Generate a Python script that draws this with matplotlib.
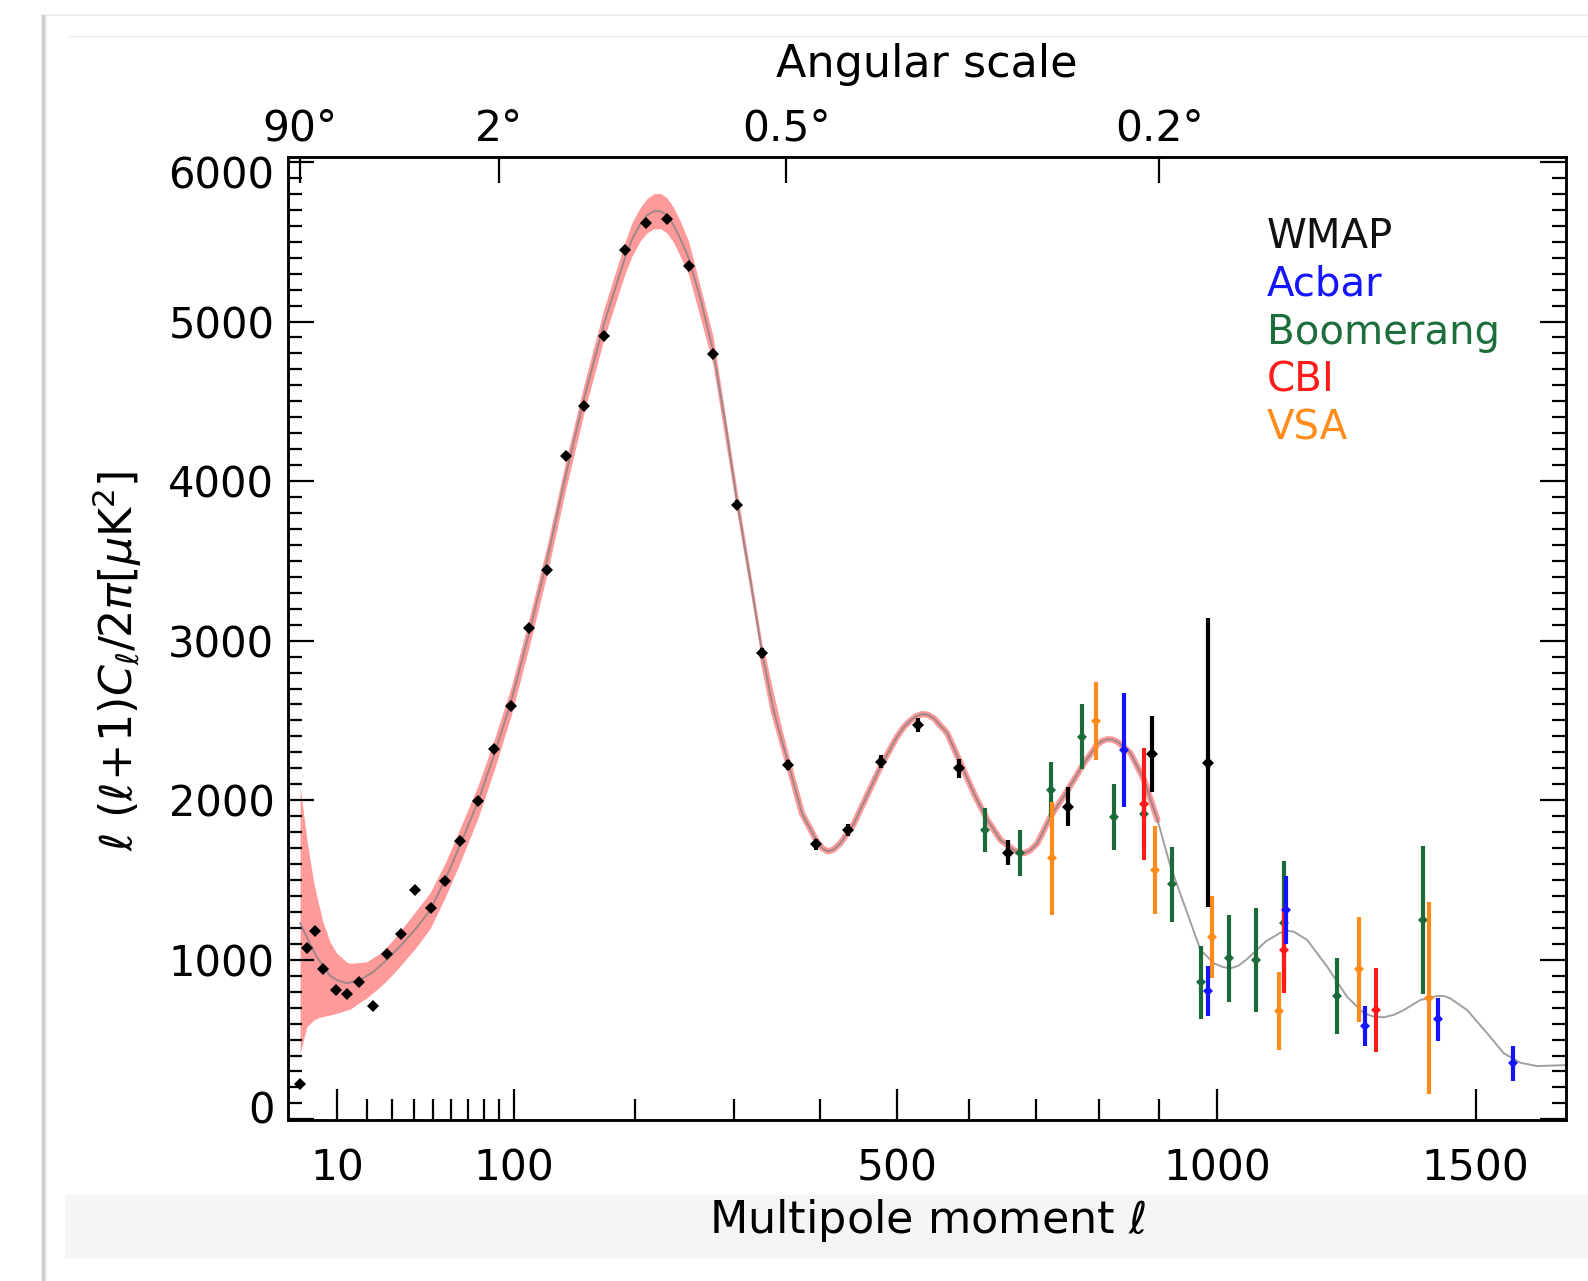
import numpy as np
import matplotlib
matplotlib.use('Agg')
import matplotlib.pyplot as plt
from matplotlib.ticker import FixedLocator, MultipleLocator, NullLocator
from matplotlib.lines import Line2D
from matplotlib.patches import Rectangle
import matplotlib.transforms as mtransforms

plt.rcParams['font.family'] = ['DejaVu Sans']
plt.rcParams['mathtext.fontset'] = 'dejavusans'
plt.rcParams['mathtext.default'] = 'it'

# ---------------- data ----------------
wmap_ell = [2, 3.2, 4.6, 6.5, 9.7, 13.1, 17.1, 22.3, 27.7, 33.9, 40.7, 48.7, 56.5, 65.2, 76.1,
            86.9, 98.3, 110.8, 124.6, 139.9, 154.7, 171.9, 190.1, 210.4, 230.5, 252.1, 277.6,
            303.6, 331.7, 361.9, 395.9, 435.6, 478.6, 528.0, 585.0, 657.0, 750.0, 888.0, 983.5]
wmap_dl = [221, 1072, 1181, 942, 811, 784, 863, 712, 1034, 1160, 1438, 1323, 1494, 1745, 1998,
           2320, 2592, 3079, 3445, 4159, 4470, 4909, 5450, 5617, 5645, 5349, 4798,
           3851, 2922, 2222, 1724, 1814, 2242, 2472, 2201, 1672, 1960, 2290, 2236]
wmap_err = [0, 0, 0, 0, 0, 0, 0, 0, 0, 0, 0, 0, 0, 0, 0,
            15, 15, 15, 18, 18, 20, 20, 22, 22, 25, 25, 25,
            28, 30, 32, 35, 38, 42, 45, 60, 78, 122, 238, 907]

boom_ell = [623, 675, 723, 772.5, 823.8, 874, 921.3, 971, 1021, 1071, 1121, 1222, 1392]
boom_dl = [1814, 1668, 2065, 2399, 1897, 1914, 1473, 859, 1009, 999, 1233, 773, 1250]
boom_err = [139, 144, 173, 202, 206, 225, 235, 229, 272, 327, 385, 240, 465]

acbar_ell = [840.5, 983.5, 1125, 1276, 1423, 1578]
acbar_dl = [2315, 804, 1312, 585, 627, 351]
acbar_err = [360, 157, 211, 125, 133, 109]

cbi_ell = [874, 1122, 1297]
cbi_dl = [1977, 1062, 685]
cbi_err = [350, 270, 261]

vsa_ell = [724, 795, 892, 991.5, 1112, 1265, 1404]
vsa_dl = [1636, 2499, 1563, 1141, 678, 940, 759]
vsa_err = [355, 245, 277, 256, 245, 330, 603]

model_ell = [2, 3.1, 4.3, 5, 6.5, 8.2, 10, 12.9, 17.3, 22.3, 27.7, 33.9, 40.7, 48.3, 56.5,
             65.2, 76.1, 86.9, 98.3, 110.8, 124.6, 139.9, 154.7, 171.9, 190.1, 197, 204.7, 211,
             217.3, 224, 230.5, 237, 244, 252.1, 265, 277.6, 291, 303.6, 318.4, 331.7, 345,
             362.6, 378.4, 396.6, 403, 410, 417, 425.7, 442.6, 459.9, 478.6, 499.8, 509,
             517.8, 526, 534, 542, 550, 568.8, 587.8, 607, 626.6, 646.3, 666.3, 674, 681.4, 691,
             702, 722.8, 748.9, 775, 797, 805, 813, 821, 829.4, 851.4, 874, 896.6, 919, 947.8,
             971, 994.5, 1010, 1024, 1038, 1054, 1088, 1115, 1128, 1140, 1165, 1203, 1241, 1274,
             1294, 1313, 1333, 1353, 1386, 1420, 1434, 1447, 1482, 1524, 1559, 1594, 1630, 1693]
model_dl = [1230, 1140, 1061, 1020, 957, 900, 873, 853, 873, 925, 1000, 1090, 1190, 1310, 1500,
            1720, 1990, 2290, 2620, 3034, 3500, 4050, 4520, 4990, 5390, 5515, 5610, 5665,
            5690, 5693, 5665, 5605, 5515, 5400, 5130, 4820, 4360, 3870, 3381, 2922, 2560,
            2221, 1918, 1741, 1700, 1680, 1690, 1730, 1850, 2030, 2220, 2400, 2460,
            2500, 2528, 2540, 2535, 2514, 2420, 2232, 2044, 1877, 1751, 1688, 1672, 1668, 1685,
            1730, 1900, 2060, 2230, 2350, 2372, 2382, 2381, 2367, 2295, 2127, 1877, 1584, 1292,
            1061, 978, 955, 947, 962, 1005, 1115, 1170, 1182, 1176, 1124, 957, 769, 665,
            643, 640, 655, 685, 748, 773, 773, 759, 685, 539, 414, 355, 334, 340]

band_ell = [2, 3.1, 4.3, 5, 6.5, 8.2, 10, 13, 14, 18.5, 19.7, 24.9, 27.7, 32, 40.7, 48.3,
            56.5, 65.2, 76.1, 86.9, 98.3, 110.8, 124.6, 139.9, 154.7, 171.9, 190.1, 197, 204.7,
            211, 217.3, 224, 230.5, 237, 244, 252.1, 277.6, 303.6, 331.7, 362.6, 380]
band_lo = [414, 581, 620, 633, 645, 654, 665, 685, 690, 748, 760, 831, 870, 936, 1070, 1195,
           1390, 1610, 1885, 2195, 2530, 2945, 3410, 3960, 4430, 4895, 5290, 5410, 5505,
           5555, 5580, 5582, 5555, 5495, 5405, 5295, 4730, 3800, 2865, 2180, 1880]
band_hi = [2085, 1751, 1500, 1400, 1229, 1110, 1041, 985, 978, 985, 988, 1040, 1082, 1150, 1300,
           1420, 1605, 1825, 2090, 2385, 2710, 3125, 3590, 4140, 4610, 5085, 5490, 5620, 5715,
           5770, 5800, 5803, 5775, 5715, 5625, 5505, 4910, 3940, 2980, 2262, 1950]

x_major = [10, 100, 500, 1000, 1500]
x_minor = [20, 30, 40, 50, 60, 70, 80, 90, 200, 300, 400, 600, 700, 800, 900]
y_major = [0, 1000, 2000, 3000, 4000, 5000, 6000]
top_ell = [2, 90, 360, 900]
top_labels = ['90°', '2°', '0.5°', '0.2°']

legend_names = ['WMAP', 'Acbar', 'Boomerang', 'CBI', 'VSA']
c_wmap, c_acbar, c_boom, c_cbi, c_vsa = '#000000', '#1414ff', '#1b6b3a', '#ff1a1a', '#ff8c1a'
legend_colors = ['#111111', c_acbar, '#1e6e3c', c_cbi, c_vsa]

# ---------------- figure ----------------
W, H = 1588, 1281
fig = plt.figure(figsize=(W / 100, H / 100), dpi=100)


def fx(px):
    return px / W


def fy(py):
    return 1 - py / H


# screenshot-like frame (behind everything)
fig.patches.append(Rectangle((fx(65), fy(1257)), 1 - fx(65), (1257 - 1195) / H,
                             transform=fig.transFigure, color='#f5f5f5', zorder=-5))
for dx, c in [(-2, '#ececec'), (-1, '#d8d8d8'), (0, '#c4c4c4'), (1, '#d0d0d0'), (2, '#e2e2e2'), (3, '#f0f0f0')]:
    fig.add_artist(Line2D([fx(43 + dx)] * 2, [fy(15), 0], color=c, lw=0.9,
                          transform=fig.transFigure, zorder=-5))
fig.add_artist(Line2D([fx(45), 1], [fy(15)] * 2, color='#ebebeb', lw=1.2,
                      transform=fig.transFigure, zorder=-5))
fig.add_artist(Line2D([fx(67), 1], [fy(36)] * 2, color='#f0f0f0', lw=1.0,
                      transform=fig.transFigure, zorder=-5))

L, R, T, B = 288.3, 1566.0, 156.7, 1120.0
ax = fig.add_axes([fx(L), fy(B), (R - L) / W, (B - T) / H])
ax.patch.set_alpha(0)


def fwd(x):
    x = np.asarray(x, dtype=float)
    return np.sign(x) * np.abs(x) ** 0.6


def inv(u):
    u = np.asarray(u, dtype=float)
    return np.sign(u) * np.abs(u) ** (1 / 0.6)


ax.set_xscale('function', functions=(fwd, inv))
xlim = (0.58, 1693)
ax.set_xlim(*xlim)
ax.set_ylim(-4, 6033)

# model band and curve
ax.fill_between(band_ell, band_lo, band_hi, color='#ff9a9a', lw=0, zorder=1)
me = np.array(model_ell)
md = np.array(model_dl)
sel = (me >= 330) & (me <= 900)
ax.plot(me[sel], md[sel], color='#ff9a9a', lw=4.5, solid_capstyle='round',
        solid_joinstyle='round', zorder=1.5)
ax.plot(model_ell, model_dl, color='#808080', lw=1.4, alpha=0.75, solid_joinstyle='round', zorder=2)


# data
def draw(ell, dl, err, color, ms, z):
    ax.errorbar(ell, dl, yerr=err, fmt='D', color=color, ms=ms, mew=0,
                elinewidth=3.0, capsize=4.0, capthick=1.5, zorder=z)


draw(boom_ell, boom_dl, boom_err, c_boom, 5.0, 3)
draw(vsa_ell, vsa_dl, vsa_err, c_vsa, 5.0, 3.1)
draw(cbi_ell, cbi_dl, cbi_err, c_cbi, 5.0, 3.2)
draw(acbar_ell, acbar_dl, acbar_err, c_acbar, 5.0, 3.3)
draw(wmap_ell, wmap_dl, wmap_err, c_wmap, 6.4, 4)

# legend as coloured text
for i, (name, col) in enumerate(zip(legend_names, legend_colors)):
    ax.text(0.766, 0.9167 - i * 0.0498, name, color=col, fontsize=29,
            transform=ax.transAxes, ha='left', va='center')

# ticks
ax.xaxis.set_major_locator(FixedLocator(x_major))
ax.xaxis.set_minor_locator(FixedLocator(x_minor))
ax.set_xticklabels([str(v) for v in x_major])
ax.yaxis.set_major_locator(FixedLocator(y_major))
ax.yaxis.set_minor_locator(MultipleLocator(100))
ax.set_yticklabels([str(v) for v in y_major])

ax.tick_params(axis='x', which='major', direction='in', length=22, width=1.6,
               top=False, pad=20, labelsize=30.5)
ax.tick_params(axis='x', which='minor', direction='in', length=15, width=1.6, top=False)
ax.tick_params(axis='y', which='major', direction='in', length=19, width=1.6,
               left=True, right=True, pad=10, labelsize=30)
ax.tick_params(axis='y', which='minor', direction='in', length=10, width=1.6,
               left=True, right=True)
for s in ax.spines.values():
    s.set_linewidth(1.8)

ax.set_xlabel('Multipole moment $\\ell$', fontsize=32)
ax.xaxis.set_label_coords(0.5, (B - 1220) / (B - T))
ax.xaxis.label.set_verticalalignment('center')

ax.set_ylabel(r'$\ell\ (\ell\!+\!1)C_\ell/2\pi[\mu\mathrm{K}^2]$', fontsize=32)
ax.yaxis.set_label_coords((117 - L) / (R - L), 0.477)
ax.yaxis.label.set_verticalalignment('center')
ax.yaxis.label.set_horizontalalignment('center')

# top axis: angular scale
ax2 = ax.twiny()
ax2.set_xscale('function', functions=(fwd, inv))
ax2.set_xlim(*xlim)
ax2.xaxis.set_major_locator(FixedLocator(top_ell))
ax2.xaxis.set_minor_locator(NullLocator())
ax2.set_xticklabels(top_labels)
ax2.tick_params(axis='x', which='major', direction='in', length=19, width=1.6,
                pad=5, labelsize=30.5)
ax2.set_xlabel('Angular scale', fontsize=32)
ax2.xaxis.set_label_coords(0.5, (B - 64) / (B - T))
ax2.xaxis.label.set_verticalalignment('center')
for s in ax2.spines.values():
    s.set_linewidth(1.8)

fig.canvas.draw()
# end labels on the y axis sit inward, as in the reference
for lab in ax.get_yticklabels():
    t = lab.get_text()
    if t == '6000':
        lab.set_transform(lab.get_transform() + mtransforms.ScaledTranslation(0, -7.2 / 72, fig.dpi_scale_trans))
    elif t == '0':
        lab.set_transform(lab.get_transform() + mtransforms.ScaledTranslation(0, 8.6 / 72, fig.dpi_scale_trans))

fig.savefig('out.png', dpi=100)
